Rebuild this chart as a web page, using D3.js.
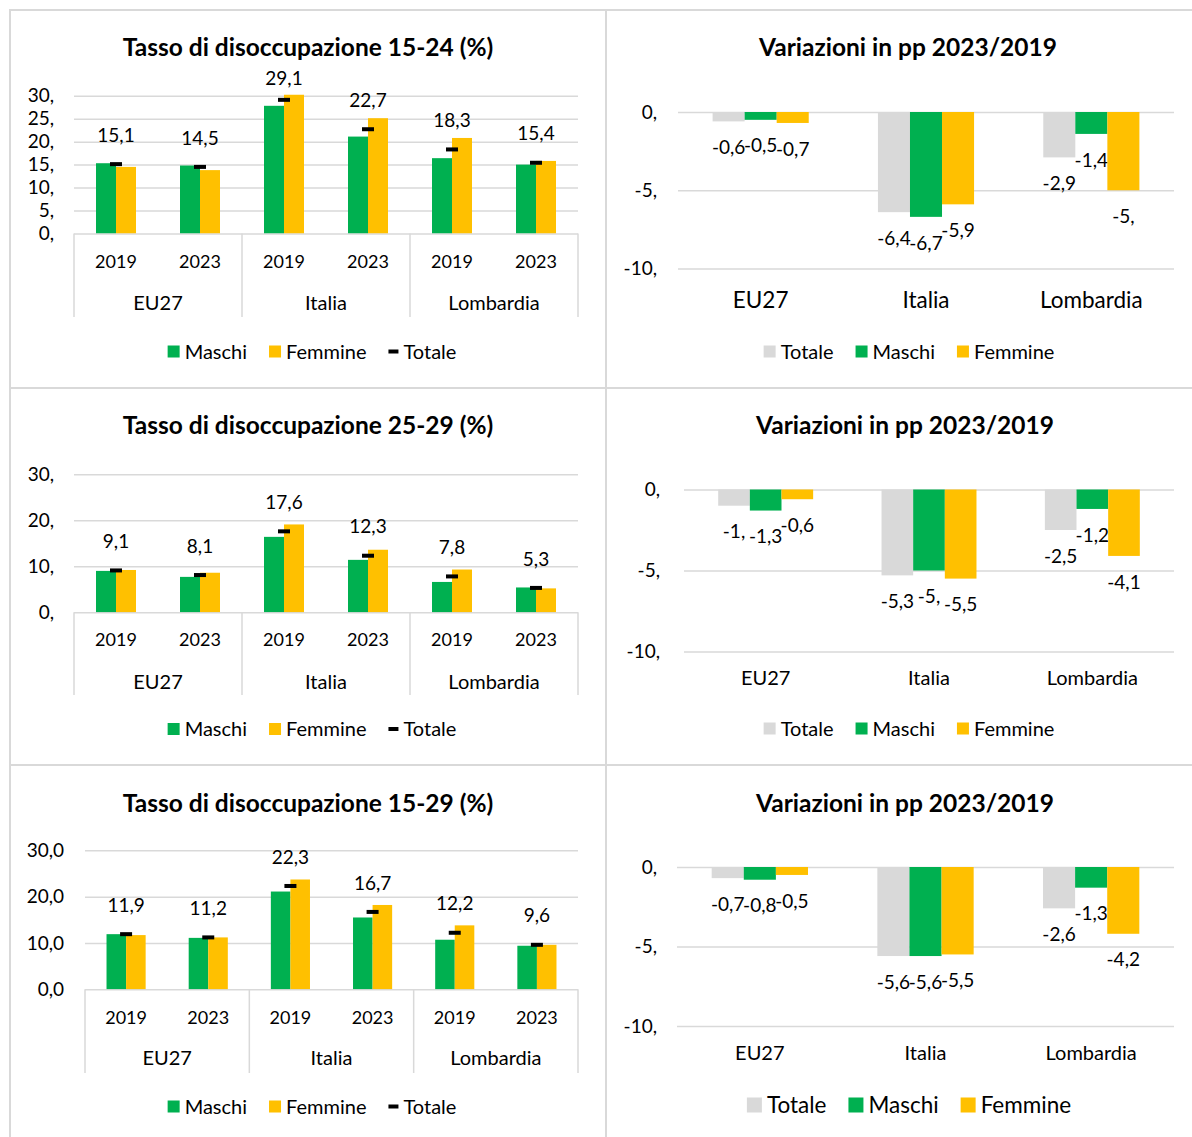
<!DOCTYPE html>
<html>
<head>
<meta charset="utf-8">
<script src="https://cdn.jsdelivr.net/npm/d3@7"></script>
<style>
  body { margin: 0; background: #fff; }
  text { font-family: Lato, "Open Sans", sans-serif; fill: #000; }
</style>
</head>
<body>
<div id="chart"></div>
<script>
// ---- data ----
var regions = ["EU27", "Italia", "Lombardia"];
var years = ["2019", "2023"];
var varSeries = ["Totale", "Maschi", "Femmine"];

// rates by column: EU27 2019, EU27 2023, Italia 2019, Italia 2023, Lombardia 2019, Lombardia 2023
var maschi1524 = [15.3, 14.8, 27.8, 21.1, 16.4, 15.0];
var femmine1524 = [14.5, 13.8, 31.0, 25.1, 20.8, 15.8];
var totale1524 = [15.1, 14.5, 29.1, 22.7, 18.3, 15.4];

var maschi2529 = [9.0, 7.7, 16.4, 11.4, 6.6, 5.4];
var femmine2529 = [9.2, 8.6, 19.1, 13.6, 9.3, 5.2];
var totale2529 = [9.1, 8.1, 17.6, 12.3, 7.8, 5.3];

var maschi1529 = [11.9, 11.1, 21.1, 15.5, 10.7, 9.4];
var femmine1529 = [11.7, 11.2, 23.7, 18.2, 13.8, 9.6];
var totale1529 = [11.9, 11.2, 22.3, 16.7, 12.2, 9.6];

// variations 2023/2019 by region
var varTotale1524 = [-0.6, -6.4, -2.9];
var varMaschi1524 = [-0.5, -6.7, -1.4];
var varFemmine1524 = [-0.7, -5.9, -5.0];

var varTotale2529 = [-1.0, -5.3, -2.5];
var varMaschi2529 = [-1.3, -5.0, -1.2];
var varFemmine2529 = [-0.6, -5.5, -4.1];

var varTotale1529 = [-0.7, -5.6, -2.6];
var varMaschi1529 = [-0.8, -5.6, -1.3];
var varFemmine1529 = [-0.5, -5.5, -4.2];

var ticksTop = [0, 5, 10, 15, 20, 25, 30];
var ticksTen = [0, 10, 20, 30];
var ticksVar = [-10, -5, 0];

var colors = { Maschi: "#00B050", Femmine: "#FFC000", Totale: "#D9D9D9" };
var gridColor = "#D9D9D9";

var width = 1192, height = 1137;

var svg = d3.select("#chart")
  .append("svg")
  .attr("width", width)
  .attr("height", height);

var itLocale = d3.formatLocale({ decimal: ",", thousands: ".", grouping: [3], currency: ["", " €"], minus: "-" });
var fmt1 = itLocale.format(".1f");
// Excel shows "30," / "-5," for whole numbers in this sheet
function fmtTrim(v) { return fmt1(v).replace(/,0$/, ","); }

// panel frame lines
var frame = svg.append("g").attr("stroke", "#D9D9D9").attr("stroke-width", 2);
frame.append("line").attr("x1", 9).attr("x2", width).attr("y1", 10).attr("y2", 10);
frame.append("line").attr("x1", 10).attr("x2", 10).attr("y1", 9).attr("y2", height);
frame.append("line").attr("x1", 606).attr("x2", 606).attr("y1", 10).attr("y2", height);
frame.append("line").attr("x1", 10).attr("x2", width).attr("y1", 388).attr("y2", 388);
frame.append("line").attr("x1", 10).attr("x2", width).attr("y1", 765).attr("y2", 765);

function legend(g, items, cx, y, fontSize, box) {
  var lg = g.append("g");
  var x = 0;
  items.forEach(function(name, i) {
    var item = lg.append("g").attr("transform", "translate(" + x + ",0)");
    if (name === "Totale" && box.dash) {
      item.append("rect").attr("x", 0).attr("y", y - 2).attr("width", 10).attr("height", 4).attr("fill", "#000");
    } else {
      item.append("rect").attr("x", 0).attr("y", y - box.size / 2).attr("width", box.size).attr("height", box.size)
        .attr("fill", colors[name]);
    }
    var mw = (name === "Totale" && box.dash) ? 10 : box.size;
    var t = item.append("text").attr("x", mw + box.gap).attr("y", y).attr("dy", "0.35em")
      .style("font-size", fontSize + "px").text(name);
    x += mw + box.gap + t.node().getComputedTextLength() + box.space;
  });
  var total = x - box.space;
  lg.attr("transform", "translate(" + (cx - total / 2) + ",0)");
}

function rateChart(cfg, maschi, femmine, totale, ticks, tickFmt) {
  var g = svg.append("g");
  var cols = d3.range(maschi.length);

  var xCol = d3.scaleBand().domain(cols).range([cfg.x0, cfg.x1]);
  var xReg = d3.scaleBand().domain(regions).range([cfg.x0, cfg.x1]);
  var xSex = d3.scaleBand().domain(["Maschi", "Femmine"]).range([0, xCol.bandwidth()]).paddingOuter(1.1);
  var y = d3.scaleLinear().domain([0, 30]).range([cfg.y0, cfg.y30]);

  g.append("text").attr("x", cfg.titleX).attr("y", cfg.titleY).attr("dy", "0.35em")
    .attr("text-anchor", "middle").style("font-size", "24.5px").style("font-weight", "bold")
    .text(cfg.title);

  // gridlines + y labels
  var yAxis = d3.axisLeft(y).tickValues(ticks).tickFormat(tickFmt)
    .tickSize(-(cfg.x1 - cfg.x0)).tickPadding(cfg.tickPad);
  var ya = g.append("g").attr("transform", "translate(" + cfg.x0 + ",0)").call(yAxis);
  ya.select(".domain").remove();
  ya.selectAll(".tick line").attr("stroke", gridColor).attr("stroke-width", 1.5);
  ya.selectAll(".tick text").style("font-size", "19px").attr("fill", "#000").style("font-family", null);

  // clip at the axis max like Excel
  var clipId = "clip" + cfg.id;
  g.append("clipPath").attr("id", clipId).append("rect")
    .attr("x", cfg.x0).attr("y", cfg.y30 - 1).attr("width", cfg.x1 - cfg.x0).attr("height", cfg.y0 - cfg.y30 + 1);

  var bars = g.append("g").attr("clip-path", "url(#" + clipId + ")");
  bars.selectAll(".m").data(maschi).enter().append("rect")
    .attr("x", function(d, i) { return xCol(i) + xSex("Maschi"); })
    .attr("y", function(d) { return y(d); })
    .attr("width", xSex.bandwidth())
    .attr("height", function(d) { return y(0) - y(d); })
    .attr("fill", colors.Maschi);
  bars.selectAll(".f").data(femmine).enter().append("rect")
    .attr("x", function(d, i) { return xCol(i) + xSex("Femmine"); })
    .attr("y", function(d) { return y(d); })
    .attr("width", xSex.bandwidth())
    .attr("height", function(d) { return y(0) - y(d); })
    .attr("fill", colors.Femmine);

  // totale markers
  g.selectAll(".tot").data(totale).enter().append("rect")
    .attr("x", function(d, i) { return xCol(i) + xCol.bandwidth() / 2 - 6; })
    .attr("y", function(d) { return y(d) - 2; })
    .attr("width", 12).attr("height", 4).attr("fill", "#000");

  g.selectAll(".lab").data(totale).enter().append("text")
    .attr("x", function(d, i) { return xCol(i) + xCol.bandwidth() / 2; })
    .attr("y", function(d) { return Math.max(y(d) - 29, cfg.y30 - 17); })
    .attr("dy", "0.35em").attr("text-anchor", "middle").style("font-size", "19px")
    .text(function(d) { return fmt1(d); });

  // category axis: years, regions, separators
  g.selectAll(".yr").data(cols).enter().append("text")
    .attr("x", function(i) { return xCol(i) + xCol.bandwidth() / 2; })
    .attr("y", cfg.yearY).attr("dy", "0.35em").attr("text-anchor", "middle").style("font-size", "18px")
    .text(function(i) { return years[i % years.length]; });
  g.selectAll(".rg").data(regions).enter().append("text")
    .attr("x", function(r) { return xReg(r) + xReg.bandwidth() / 2; })
    .attr("y", cfg.regionY).attr("dy", "0.35em").attr("text-anchor", "middle").style("font-size", "20px")
    .text(function(r) { return r; });
  var seps = regions.map(function(r) { return xReg(r); }).concat([cfg.x1]);
  g.selectAll(".sep").data(seps).enter().append("line")
    .attr("x1", function(d) { return d; }).attr("x2", function(d) { return d; })
    .attr("y1", cfg.y0).attr("y2", cfg.sepBottom)
    .attr("stroke", gridColor).attr("stroke-width", 1.5);

  legend(g, ["Maschi", "Femmine", "Totale"], cfg.legendX, cfg.legendY, 20, { size: 12, gap: 5, space: 22, dash: true });
}

function varChart(cfg, tot, mas, fem) {
  var g = svg.append("g");
  var series = { Totale: tot, Maschi: mas, Femmine: fem };

  var xReg = d3.scaleBand().domain(regions).range([cfg.x0, cfg.x1]);
  var xSer = d3.scaleBand().domain(varSeries).range([0, xReg.bandwidth()]).paddingOuter(1.08);
  var y = d3.scaleLinear().domain([-10, 0]).range([cfg.yMin, cfg.yZero]);

  g.append("text").attr("x", cfg.titleX).attr("y", cfg.titleY).attr("dy", "0.35em")
    .attr("text-anchor", "middle").style("font-size", "24.5px").style("font-weight", "bold")
    .text("Variazioni in pp 2023/2019");

  var yAxis = d3.axisLeft(y).tickValues(ticksVar).tickFormat(fmtTrim)
    .tickSize(-(cfg.x1 - cfg.x0)).tickPadding(cfg.tickPad);
  var ya = g.append("g").attr("transform", "translate(" + cfg.x0 + ",0)").call(yAxis);
  ya.select(".domain").remove();
  ya.selectAll(".tick line").attr("stroke", gridColor).attr("stroke-width", 1.5);
  ya.selectAll(".tick text").style("font-size", "19px").attr("fill", "#000").style("font-family", null);

  varSeries.forEach(function(s) {
    var vals = series[s];
    g.selectAll(".b" + s).data(vals).enter().append("rect")
      .attr("x", function(d, i) { return xReg(regions[i]) + xSer(s); })
      .attr("y", y(0))
      .attr("width", xSer.bandwidth())
      .attr("height", function(d) { return y(d) - y(0); })
      .attr("fill", colors[s]);
    g.selectAll(".l" + s).data(vals).enter().append("text")
      .attr("x", function(d, i) { return xReg(regions[i]) + xSer(s) + xSer.bandwidth() / 2; })
      .attr("y", function(d) { return y(d) + 26; })
      .attr("dy", "0.35em").attr("text-anchor", "middle").style("font-size", "19px")
      .text(function(d) { return fmtTrim(d); });
  });

  g.selectAll(".rg").data(regions).enter().append("text")
    .attr("x", function(r) { return xReg(r) + xReg.bandwidth() / 2; })
    .attr("y", cfg.catY).attr("dy", "0.35em").attr("text-anchor", "middle")
    .style("font-size", cfg.catSize + "px")
    .text(function(r) { return r; });

  legend(g, varSeries, cfg.legendX, cfg.legendY, cfg.legendSize,
    { size: cfg.legendBox, gap: 5, space: 22, dash: false });
}

rateChart({ id: 1, title: "Tasso di disoccupazione 15-24 (%)", titleX: 308, titleY: 47,
  x0: 74, x1: 578, y0: 233.5, y30: 95.7, tickPad: 20,
  yearY: 262, regionY: 303, sepBottom: 317, legendX: 312, legendY: 351.5 },
  maschi1524, femmine1524, totale1524, ticksTop, fmtTrim);

rateChart({ id: 2, title: "Tasso di disoccupazione 25-29 (%)", titleX: 308, titleY: 425,
  x0: 74, x1: 578, y0: 612.3, y30: 474.3, tickPad: 20,
  yearY: 640, regionY: 681.5, sepBottom: 695, legendX: 312, legendY: 729 },
  maschi2529, femmine2529, totale2529, ticksTen, fmtTrim);

rateChart({ id: 3, title: "Tasso di disoccupazione 15-29 (%)", titleX: 308, titleY: 803,
  x0: 85, x1: 578, y0: 989.3, y30: 850.3, tickPad: 21,
  yearY: 1017.3, regionY: 1058.3, sepBottom: 1073, legendX: 312, legendY: 1106.5 },
  maschi1529, femmine1529, totale1529, ticksTen, fmt1);

varChart({ titleX: 908, titleY: 47, x0: 678, x1: 1174, yZero: 112, yMin: 268.5, tickPad: 21,
  catY: 300, catSize: 22.5, legendX: 909, legendY: 351.5, legendSize: 20, legendBox: 12 },
  varTotale1524, varMaschi1524, varFemmine1524);

varChart({ titleX: 905, titleY: 425, x0: 684, x1: 1174, yZero: 489.5, yMin: 651.5, tickPad: 24,
  catY: 678, catSize: 20, legendX: 909, legendY: 728.5, legendSize: 20, legendBox: 12 },
  varTotale2529, varMaschi2529, varFemmine2529);

varChart({ titleX: 905, titleY: 803, x0: 677, x1: 1174, yZero: 867, yMin: 1026, tickPad: 20,
  catY: 1053, catSize: 20, legendX: 909, legendY: 1105, legendSize: 22.5, legendBox: 15 },
  varTotale1529, varMaschi1529, varFemmine1529);
</script>
</body>
</html>
